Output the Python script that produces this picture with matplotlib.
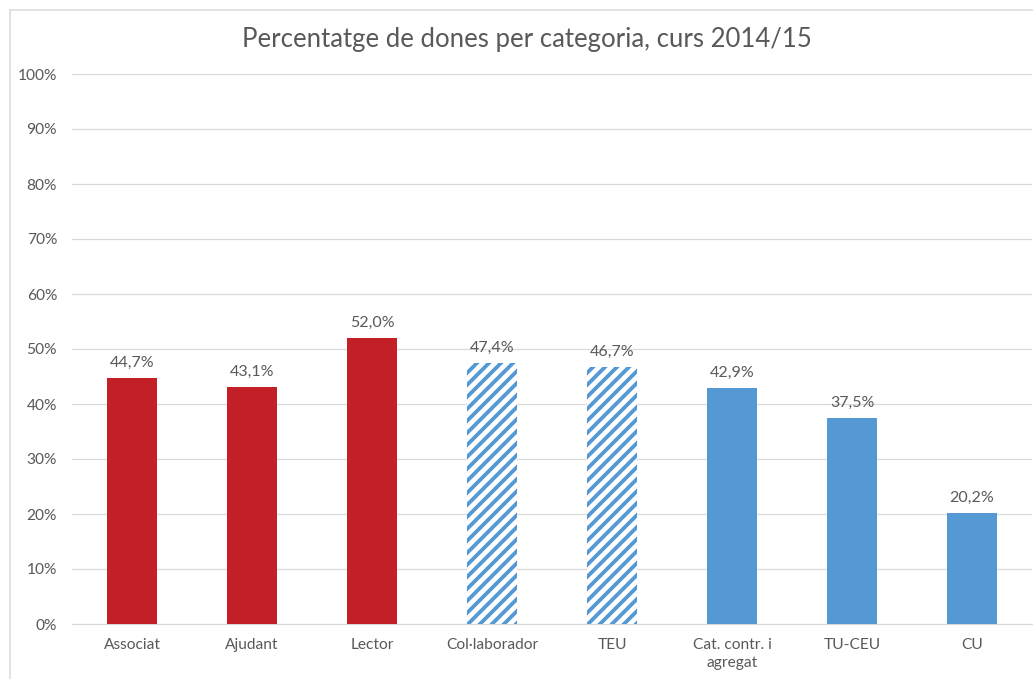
import matplotlib
matplotlib.use("Agg")
import matplotlib.pyplot as plt
from matplotlib.patches import Rectangle

categories = ['Associat', 'Ajudant', 'Lector', 'Col·laborador', 'TEU',
              'Cat. contr. i\nagregat', 'TU-CEU', 'CU']
values = [44.7, 43.1, 52.0, 47.4, 46.7, 42.9, 37.5, 20.2]
styles = ['red', 'red', 'red', 'hatch', 'hatch', 'blue', 'blue', 'blue']
yticks = [0, 10, 20, 30, 40, 50, 60, 70, 80, 90, 100]
title = 'Percentatge de dones per categoria, curs 2014/15'

RED = '#C21F26'
BLUE = '#5499D3'
GRAY = '#595959'
GRID = '#D9D9D9'

plt.rcParams['font.family'] = ['Lato', 'DejaVu Sans']
plt.rcParams['hatch.linewidth'] = 3.8
plt.rcParams['hatch.color'] = BLUE

W, H, DPI = 1033, 679, 72
fig = plt.figure(figsize=(W / DPI, H / DPI), dpi=DPI)
fig.patch.set_facecolor('white')

# chart border (cropped Excel chart frame)
fig.patches.append(Rectangle((10 / W, -0.2), 1.3, (H - 10) / H + 0.2,
                             transform=fig.transFigure, fill=False,
                             edgecolor=GRID, linewidth=1.5, zorder=0))

ax = fig.add_axes([72 / W, 55 / H, 960 / W, 550 / H])
x = list(range(len(categories)))
for xi, v, s in zip(x, values, styles):
    if s == 'hatch':
        ax.bar(xi, v, width=0.42, color='white', edgecolor=BLUE, hatch='//',
               linewidth=0, zorder=3)
    else:
        ax.bar(xi, v, width=0.42, color=RED if s == 'red' else BLUE,
               linewidth=0, zorder=3)
    ax.annotate(f'{v:.1f}%'.replace('.', ','), (xi, v), xytext=(0, 8),
                textcoords='offset points', ha='center', va='bottom',
                fontsize=16, color=GRAY)

ax.set_xlim(-0.5, len(categories) - 0.5)
ax.set_ylim(0, 100)
ax.set_yticks(yticks)
ax.set_yticklabels([f'{t}%' for t in yticks])
ax.set_xticks(x)
ax.set_xticklabels(categories, linespacing=1.35)
ax.tick_params(axis='both', length=0, labelsize=15.5, colors=GRAY)
ax.tick_params(axis='y', pad=15)
ax.tick_params(axis='x', pad=14)
ax.yaxis.grid(True, color=GRID, linewidth=1.2, zorder=0)
ax.set_axisbelow(True)
for side in ['top', 'right', 'left']:
    ax.spines[side].set_visible(False)
ax.spines['bottom'].set_color(GRID)
ax.spines['bottom'].set_linewidth(1.2)

fig.text(527 / W, 1 - 40 / H, title, ha='center', va='center',
         fontsize=25.7, color=GRAY)

fig.savefig('out.png', dpi=DPI, facecolor='white')
